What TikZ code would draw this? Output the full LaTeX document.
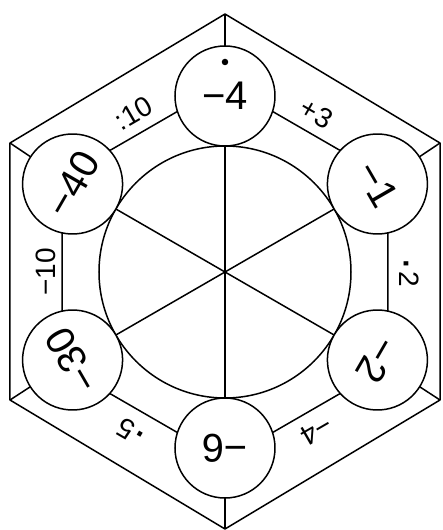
\documentclass[tikz,border=0pt]{standalone}
\usepackage{fontspec}
\setmainfont{Liberation Sans}
\newcommand{\opdot}{{\fontsize{44}{44}\selectfont\raisebox{-0.12em}{·}}}
\begin{document}
\begin{tikzpicture}[x=1pt,y=1pt, line width=1.5pt, line join=round,
  numcirc/.style={circle, draw, fill=white, minimum size=100pt, inner sep=0pt,
    font=\fontsize{40}{40}\selectfont},
  oplabel/.style={inner sep=0pt, font=\fontsize{28}{28}\selectfont}]
\useasboundingbox (-225,-258) rectangle (217,272);
% outer hexagon
\coordinate (o1) at (0,258);
\coordinate (o2) at (215,129);
\coordinate (o3) at (215,-128);
\coordinate (o4) at (0,-257);
\coordinate (o5) at (-215,-128);
\coordinate (o6) at (-215,129);
\draw (o1)--(o2)--(o3)--(o4)--(o5)--(o6)--cycle;
% inner hexagon
\foreach \i/\a in {1/90,2/30,3/-30,4/-90,5/-150,6/150}
  \coordinate (i\i) at (\a:188);
\draw (i1)--(i2)--(i3)--(i4)--(i5)--(i6)--cycle;
% frame corners
\foreach \i in {1,...,6} \draw (o\i)--(i\i);
% big circle and spokes
\coordinate (c) at (0,0);
\draw (c) circle (126);
\foreach \i/\a in {1/90,2/30,3/-30,4/-90,5/-150,6/150}
  \coordinate (s\i) at (\a:126);
\draw (s1)--(s4);
\draw (s2)--(s5);
\draw (s3)--(s6);
% number circles
\node[numcirc, rotate=0]    (n1) at (90:176)   {−4};
\node[numcirc, rotate=-60]  (n2) at (30:176)   {−1};
\node[numcirc, rotate=-120] (n3) at (-30:176)  {−2};
\node[numcirc, rotate=180]  (n4) at (-90:176)  {−6};
\node[numcirc, rotate=120]  (n5) at (-150:176) {−30};
\node[numcirc, rotate=60]   (n6) at (150:176)  {−40};
\node[circle, fill, minimum size=6.5pt, inner sep=0pt] (start) at (0,210) {};
% operation labels
\node[oplabel, rotate=-30]  (l1) at (60:183)   {+3};
\node[oplabel, rotate=-90]  (l2) at (0:182)    {\opdot2};
\node[oplabel, rotate=-150] (l3) at (-60:183)  {−4};
\node[oplabel, rotate=150]  (l4) at (-120:183) {\opdot5};
\node[oplabel, rotate=90]   (l5) at (180:179)  {−10};
\node[oplabel, rotate=30]   (l6) at (120:183)  {:10};
\end{tikzpicture}
\end{document}
